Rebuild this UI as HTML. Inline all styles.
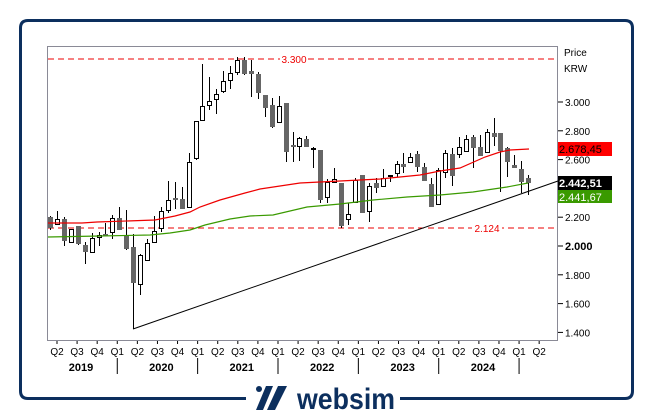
<!DOCTYPE html>
<html><head><meta charset="utf-8"><style>
html,body{margin:0;padding:0;background:#fff;}
svg{display:block;font-family:"Liberation Sans",Arial,sans-serif;}
</style></head><body>
<svg id="s" width="653" height="419" viewBox="0 0 653 419" xmlns="http://www.w3.org/2000/svg">
<rect x="0" y="0" width="653" height="419" fill="#fff"/>
<path d="M246 398.5 H28 Q20.5 398.5 20.5 391 V28 Q20.5 20.5 28 20.5 H625 Q632.5 20.5 632.5 28 V391 Q632.5 398.5 625 398.5 H400" fill="none" stroke="#0c2f5e" stroke-width="3"/>
<circle cx="259" cy="389" r="3" fill="#0c2f5e"/>
<polygon points="266,386 273,386 263,410 256,410" fill="#0c2f5e"/>
<polygon points="278,386 287,386 275,410 267,410" fill="#0c2f5e"/>
<text x="297" y="409" font-size="30" fill="#0c2f5e" font-weight="bold" textLength="98" lengthAdjust="spacingAndGlyphs">websim</text>
<rect x="47.5" y="46.5" width="510" height="294" fill="#fff" stroke="#8a8a96" stroke-width="1"/>
<line x1="48" y1="59" x2="557" y2="59" stroke="#e00" stroke-dasharray="6,4"/>
<rect x="280" y="53" width="28" height="12" fill="#fff"/>
<text x="294" y="63" font-size="10" fill="#e00" text-anchor="middle">3.300</text>
<line x1="48" y1="228" x2="557" y2="228" stroke="#e00" stroke-dasharray="6,4"/>
<rect x="472" y="222" width="30" height="12" fill="#fff"/>
<text x="487" y="232" font-size="10" fill="#e00" text-anchor="middle">2.124</text>
<g id="c"></g>
<polyline fill="none" stroke="#e00" stroke-width="1.2" points="48,223 82,223 97,222 155,220 175,216 190,212 200,207 220,200 245,193 260,189 280,186 300,183 320,182 340,181 360,180 380,179 400,177 420,175 440,171 460,168 485,157 500,152 510,150 529,149"/>
<polyline fill="none" stroke="#3a9a00" stroke-width="1.2" points="48,237 100,236 150,235 170,233 190,230 205,225 230,219 250,216 273,215 307,207 340,204 373,200 407,197 440,195 473,192 507,187 528,183"/>
<line x1="133" y1="329" x2="558" y2="181" stroke="#000" stroke-width="1"/>
<g font-size="10" fill="#000">
<text x="564" y="56">Price</text><text x="564" y="72">KRW</text>
</g>
<g id="yt" font-size="10" fill="#000"></g>
<rect x="558" y="142" width="54" height="14" fill="#f00"/>
<text x="559" y="153" font-size="11" fill="#000">2.678,45</text>
<rect x="558" y="176" width="54" height="14" fill="#000"/>
<text x="559" y="187" font-size="11" fill="#fff" font-weight="bold">2.442,51</text>
<rect x="558" y="190" width="54" height="13" fill="#3a9a00"/>
<text x="559" y="201" font-size="11" fill="#fff">2.441,67</text>
<g id="xt" font-size="10" fill="#000"></g>
</svg>
<script>
var NS="http://www.w3.org/2000/svg";
function el(p,n,a,t){var e=document.createElementNS(NS,n);for(var k in a)e.setAttribute(k,a[k]);if(t)e.textContent=t;p.appendChild(e);return e;}
var d=[[217,228,216,230,1],[219,225,211,225,0],[219,241,217,246,1],[229,243,229,243,0],[226,244,226,245,1],[245,252,242,264,1],[238,253,233,253,0],[235,238,232,246,0],[234,235,223,235,1],[218,233,215,239,0],[218,230,207,230,1],[235,249,210,250,1],[247,283,234,329,1],[255,285,254,295,0],[243,261,239,261,0],[231,243,216,243,0],[211,229,207,232,0],[200,211,181,213,0],[198,200,182,209,1],[199,209,187,209,1],[162,208,153,208,0],[121,159,121,160,0],[106,121,64,121,0],[101,106,77,110,0],[94,100,89,114,0],[81,92,71,93,0],[73,81,66,89,0],[60,73,57,75,0],[60,74,57,75,1],[71,74,60,97,1],[74,93,72,99,1],[95,108,95,117,1],[105,127,98,128,1],[106,123,96,123,0],[103,152,103,162,1],[145,147,132,162,1],[138,147,137,161,0],[139,147,136,147,1],[148,150,147,168,0],[150,200,150,203,1],[182,198,179,203,0],[179,183,168,183,0],[183,226,183,228,1],[214,220,203,225,0],[180,203,178,203,0],[175,213,175,213,1],[186,212,183,222,0],[183,188,178,193,1],[178,187,169,187,0],[175,177,175,182,0],[164,174,161,177,0],[164,167,153,173,1],[157,163,153,163,0],[154,167,151,172,1],[167,181,163,181,1],[184,207,178,207,1],[170,205,168,205,0],[153,173,150,178,0],[154,176,148,186,1],[147,155,137,158,0],[139,152,135,152,0],[137,148,135,168,1],[147,156,135,156,1],[132,153,129,153,0],[133,137,118,146,1],[133,151,133,192,1],[148,162,147,177,1],[165,168,155,168,1],[169,182,161,193,1],[178,183,175,195,1]];
var g=document.getElementById("c");
d.forEach(function(c,i){var x=Math.round(50+i*6.93)+0.5;
el(g,"line",{x1:x,y1:c[2],x2:x,y2:c[3],stroke:"#000","stroke-width":1});
if(c[4])el(g,"rect",{x:x-2.5,y:c[0],width:5,height:Math.max(c[1]-c[0],1.5),fill:"#666"});
else el(g,"rect",{x:x-2,y:c[0]+0.5,width:4,height:Math.max(c[1]-c[0]-1,1),fill:"#fff",stroke:"#000","stroke-width":1});
});
var yt=document.getElementById("yt");
[1400,1600,1800,2000,2200,2400,2600,2800,3000].forEach(function(v){var y=246-(v-2000)*0.144;
if(v==2400)return;
el(yt,"line",{x1:558,y1:y,x2:563,y2:y,stroke:"#000"});
var t=el(yt,"text",{x:565,y:y+4},(v/1000).toFixed(3));
if(v==2000){t.setAttribute("font-weight","bold");t.setAttribute("font-size","11");}
});
var xt=document.getElementById("xt");var q=["Q2","Q3","Q4","Q1"];
for(var k=0;k<25;k++){var x=57+k*20.09;el(xt,"line",{x1:x,y1:341,x2:x,y2:344,stroke:"#000"});
el(xt,"text",{x:x,y:355,"text-anchor":"middle"},q[k%4]);
if(k%4==3)el(xt,"line",{x1:x,y1:358,x2:x,y2:374,stroke:"#000"});}
[2019,2020,2021,2022,2023,2024].forEach(function(y,i){el(xt,"text",{x:81+i*80.4,y:371,"text-anchor":"middle","font-weight":"bold","font-size":"11"},""+y);});
</script>
</body></html>
